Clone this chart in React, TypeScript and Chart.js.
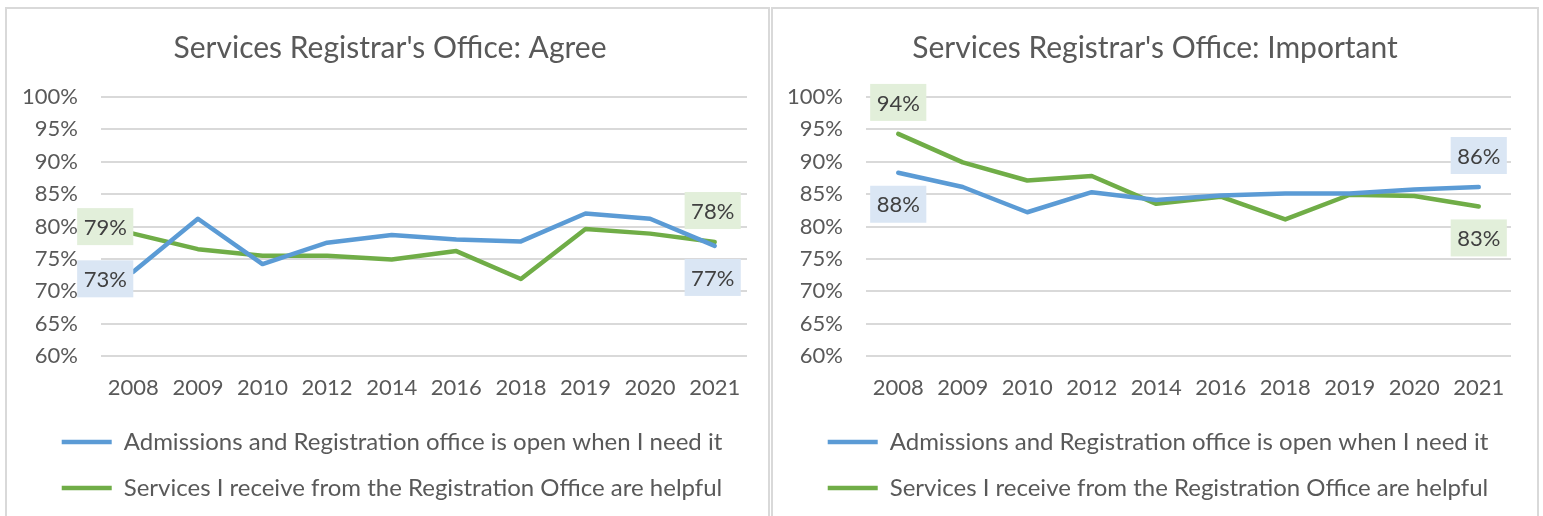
import React, { useEffect, useRef } from "react";
import { Chart, registerables } from "chart.js";

Chart.register(...registerables);

// ---------- data ----------
const years = ["2008", "2009", "2010", "2012", "2014", "2016", "2018", "2019", "2020", "2021"];
const agreeOpen = [73.0, 81.2, 74.2, 77.5, 78.7, 78.0, 77.7, 82.0, 81.2, 77.0];
const agreeHelpful = [78.9, 76.5, 75.5, 75.5, 74.9, 76.2, 71.9, 79.6, 78.9, 77.6];
const importantOpen = [88.3, 86.1, 82.2, 85.3, 84.1, 84.8, 85.1, 85.1, 85.7, 86.1];
const importantHelpful = [94.3, 89.9, 87.1, 87.8, 83.5, 84.6, 81.1, 84.9, 84.7, 83.1];
const seriesNames = [
  "Admissions and Registration office is open when I need it",
  "Services I receive from the Registration Office are helpful",
];
const chartTitles = ["Services Registrar's Office: Agree", "Services Registrar's Office: Important"];
const yMin = 60;
const yMax = 100;
const yStep = 5;

// ---------- styles ----------
const FONT = "Lato";
const TEXT = "#595959";
const GRID = "#d9d9d9";
const lineColors = ["#5b9bd5", "#70ad47"];
const labelBgs = ["#dae6f4", "#e2efda"];

type Placement = { ds: number; i: number; pos: "left" | "above" | "below"; dy?: number; dx?: number };

const leftPlacements: Placement[] = [
  { ds: 1, i: 0, pos: "left", dy: -7 },
  { ds: 0, i: 0, pos: "left", dy: 7 },
  { ds: 1, i: 9, pos: "above", dx: -2 },
  { ds: 0, i: 9, pos: "below", dx: -2 },
];
const rightPlacements: Placement[] = [
  { ds: 1, i: 0, pos: "above" },
  { ds: 0, i: 0, pos: "below" },
  { ds: 0, i: 9, pos: "above" },
  { ds: 1, i: 9, pos: "below" },
];

function makeLabelPlugin(placements: Placement[]) {
  return {
    id: "boxLabels",
    afterDatasetsDraw(chart: any) {
      const ctx = chart.ctx;
      ctx.save();
      ctx.font = `22px ${FONT}`;
      ctx.textAlign = "center";
      ctx.textBaseline = "middle";
      for (const p of placements) {
        const el = chart.getDatasetMeta(p.ds).data[p.i];
        const v = chart.data.datasets[p.ds].data[p.i] as number;
        const text = Math.round(v) + "%";
        const w = ctx.measureText(text).width + 13;
        const h = 37;
        let cx: number;
        let cy: number;
        if (p.pos === "left") {
          cx = el.x - w / 2;
          cy = el.y + (p.dy || 0);
        } else if (p.pos === "above") {
          cx = el.x + (p.dx || 0);
          cy = el.y - 13 - h / 2;
        } else {
          cx = el.x + (p.dx || 0);
          cy = el.y + 13 + h / 2;
        }
        ctx.fillStyle = labelBgs[p.ds];
        ctx.fillRect(cx - w / 2, cy - h / 2, w, h);
        ctx.fillStyle = "#404040";
        ctx.fillText(text, cx, cy + 1);
      }
      ctx.restore();
    },
  };
}

function makeBlockShift(legendDx: number, titleDx: number) {
  return {
    id: "blockShift",
    afterLayout(chart: any) {
      const l = chart.legend;
      if (l) {
        l.left += legendDx;
        l.right += legendDx;
      }
      const t = chart.titleBlock;
      if (t) {
        t.left += titleDx;
        t.right += titleDx;
      }
    },
  };
}

function Panel(props: {
  title: string;
  open: number[];
  helpful: number[];
  placements: Placement[];
  width: number;
  padRight: number;
  yWidth: number;
  legendDx: number;
  titleDx: number;
}) {
  const ref = useRef<HTMLCanvasElement>(null);
  useEffect(() => {
    if (!ref.current) return;
    const ds = (i: number, data: number[]) => ({
      label: seriesNames[i],
      data,
      borderColor: lineColors[i],
      backgroundColor: lineColors[i],
      borderWidth: 4.5,
      pointRadius: 0,
      tension: 0,
      borderCapStyle: "round",
      borderJoinStyle: "round",
    });
    const chart = new Chart(ref.current, {
      type: "line",
      data: {
        labels: years,
        datasets: [ds(0, props.open), ds(1, props.helpful)],
      },
      options: {
        responsive: false,
        animation: false,
        events: [],
        layout: { padding: { left: 0, right: props.padRight, top: 0, bottom: 6 } },
        scales: {
          x: {
            offset: true,
            grid: { display: false, drawTicks: false },
            border: { display: false },
            ticks: { color: TEXT, font: { family: FONT, size: 22 }, padding: 19 },
            afterFit: (s: any) => {
              s.height = 52;
            },
          },
          y: {
            min: yMin,
            max: yMax,
            grid: { color: GRID, lineWidth: 2, drawTicks: false },
            border: { display: false },
            ticks: {
              stepSize: yStep,
              color: TEXT,
              font: { family: FONT, size: 22 },
              padding: 23,
              callback: (v: any) => v + "%",
            },
            afterFit: (s: any) => {
              s.width = props.yWidth;
            },
          },
        },
        plugins: {
          title: {
            display: true,
            text: props.title,
            color: TEXT,
            font: { family: FONT, size: 30, weight: "normal" },
            padding: { top: 21, bottom: 31 },
          },
          legend: {
            position: "bottom",
            labels: {
              color: TEXT,
              font: { family: FONT, size: 24 },
              usePointStyle: true,
              pointStyle: "line",
              pointStyleWidth: 50,
              padding: 22,
            },
          },
          tooltip: { enabled: false },
        },
      },
      plugins: [makeLabelPlugin(props.placements), makeBlockShift(props.legendDx, props.titleDx)],
    } as any);
    return () => chart.destroy();
  }, []);
  return <canvas ref={ref} width={props.width} height={507} style={{ display: "block" }} />;
}

export default function App() {
  Chart.defaults.font.family = FONT;
  return (
    <div style={{ position: "absolute", left: 0, top: 0, width: 1543, height: 516, overflow: "hidden", background: "#fff" }}>
      <div
        style={{
          position: "absolute",
          left: 5,
          top: 7,
          width: 765,
          height: 520,
          border: `2px solid ${GRID}`,
          boxSizing: "border-box",
        }}
      >
        <Panel
          title={chartTitles[0]}
          open={agreeOpen}
          helpful={agreeHelpful}
          placements={leftPlacements}
          width={761}
          padRight={21}
          yWidth={94}
          legendDx={15}
          titleDx={13}
        />
      </div>
      <div
        style={{
          position: "absolute",
          left: 771,
          top: 7,
          width: 768,
          height: 520,
          border: `2px solid ${GRID}`,
          boxSizing: "border-box",
        }}
      >
        <Panel
          title={chartTitles[1]}
          open={importantOpen}
          helpful={importantHelpful}
          placements={rightPlacements}
          width={764}
          padRight={26}
          yWidth={93}
          legendDx={16}
          titleDx={13}
        />
      </div>
    </div>
  );
}
